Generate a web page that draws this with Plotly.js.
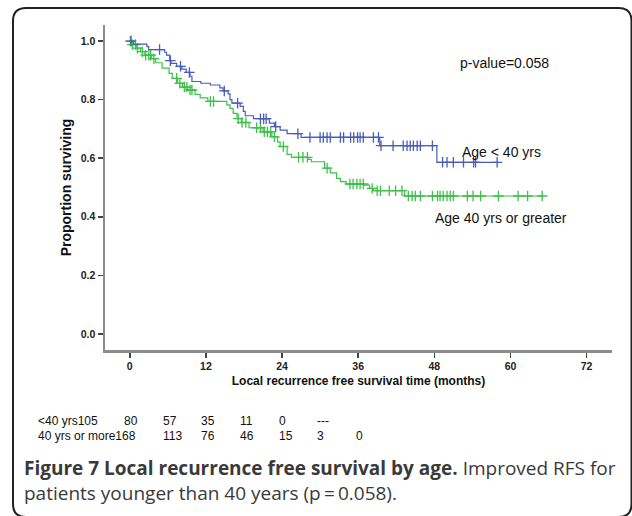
<!DOCTYPE html>
<html><head><meta charset="utf-8">
<script src="https://cdn.plot.ly/plotly-3.0.1.min.js"></script>
<style>html,body{margin:0;padding:0;background:#fff;} #chart{width:632px;height:516px;}</style>
</head><body><div id="chart"></div>
<script>
// ---- Data ----
const youngTimes = [0, 0.6, 2.7, 3.0, 5.5, 5.8, 6.3, 6.5, 7.4, 8.2, 8.9, 9.5, 9.8, 11.2, 12.7, 14.2, 14.7, 15.5, 15.8, 16.1, 17.4, 17.9, 18.2, 19.5, 22.0, 22.8, 23.7, 24.8, 27.0, 39.4, 48.4];
const youngSurv  = [1.0, 0.99, 0.981, 0.971, 0.962, 0.952, 0.933, 0.924, 0.914, 0.904, 0.893, 0.88, 0.862, 0.856, 0.85, 0.84, 0.83, 0.82, 0.80, 0.788, 0.777, 0.76, 0.745, 0.735, 0.72, 0.708, 0.696, 0.684, 0.671, 0.643, 0.586];
const youngEnd = 58.1;
const youngCensor = [0.2, 4.7, 6.4, 8.0, 9.4, 14.9, 17.0, 20.6, 21.1, 21.5, 23.0, 26.5, 28.4, 30.0, 30.5, 31.1, 31.6, 33.2, 33.7, 34.8, 35.3, 35.9, 36.3, 36.8, 38.4, 39.2, 39.6, 41.5, 43.1, 43.7, 44.2, 44.7, 45.3, 45.8, 47.7, 49.3, 50.0, 51.0, 52.6, 54.2, 54.5, 57.9];

const oldTimes = [0, 0.3, 1.0, 1.7, 2.4, 3.4, 4.1, 5.1, 6.2, 6.7, 7.5, 8.3, 9.1, 10.3, 11.1, 12.3, 15.3, 15.8, 16.3, 16.9, 17.6, 18.8, 21.0, 22.4, 23.3, 23.7, 24.8, 25.5, 28.1, 28.6, 30.7, 31.6, 32.6, 33.2, 34.1, 37.0, 37.8, 38.4, 43.3];
const oldSurv  = [1.0, 0.988, 0.976, 0.964, 0.952, 0.94, 0.926, 0.908, 0.89, 0.873, 0.856, 0.843, 0.833, 0.818, 0.806, 0.794, 0.782, 0.770, 0.753, 0.735, 0.722, 0.704, 0.690, 0.673, 0.655, 0.640, 0.613, 0.603, 0.596, 0.588, 0.566, 0.55, 0.531, 0.52, 0.512, 0.508, 0.497, 0.489, 0.471];
const oldEnd = 65.2;
const oldCensor = [0.1, 0.4, 0.9, 1.2, 2.0, 2.5, 3.0, 3.3, 3.8, 7.4, 7.9, 8.6, 9.0, 9.5, 9.8, 12.7, 13.2, 17.1, 17.7, 18.3, 20.0, 20.6, 21.2, 21.7, 22.2, 22.8, 24.2, 26.6, 27.3, 28.0, 31.1, 34.7, 35.2, 35.8, 36.3, 36.8, 38.2, 39.0, 39.5, 40.9, 41.9, 42.9, 43.9, 44.5, 45.0, 45.8, 47.7, 48.5, 48.9, 49.4, 50.0, 50.5, 51.0, 53.2, 54.1, 55.3, 58.1, 61.2, 62.7, 65.0];

const xTicks = [0, 12, 24, 36, 48, 60, 72];
const yTicks = [0, 0.2, 0.4, 0.6, 0.8, 1.0];
const riskLabels = ['<40 yrs', '40 yrs or more'];
const riskYoung = ['105', '80', '57', '35', '11', '0', '---'];
const riskOld   = ['168', '113', '76', '46', '15', '3', '0'];
const groupNames = ['Age < 40 yrs', 'Age 40 yrs or greater'];
const pText = 'p-value=0.058';
const captionBold = 'Figure 7 Local recurrence free survival by age.';
const captionRest1 = ' Improved RFS for';
const captionLine2 = 'patients younger than 40 years (p\u2009=\u20090.058).';

// ---- Layout constants ----
const W = 632, H = 516, L = 105, R = 20, T = 25, B = 166;
const PW = W - L - R, PH = H - T - B;
const px2x = p => (p - L) / PW;
const py2y = p => (T + PH - p) / PH;

const BLUE = 'rgb(72,92,184)';
const GREEN = 'rgb(62,192,74)';
const AX = 'Liberation Sans, Arial, sans-serif';

function survAt(times, surv, t) {
  let s = surv[0];
  for (let i = 0; i < times.length; i++) if (times[i] <= t) s = surv[i];
  return s;
}
function stepTrace(times, surv, end, color) {
  return {
    x: times.concat([end]), y: surv.concat([surv[surv.length - 1]]),
    mode: 'lines', line: {shape: 'hv', color: color, width: 1.2},
    hoverinfo: 'skip', showlegend: false
  };
}
function censorTrace(times, surv, cens, color) {
  return {
    x: cens, y: cens.map(t => survAt(times, surv, t)),
    mode: 'markers', marker: {symbol: 'cross-thin', size: 7.5, line: {width: 1.3, color: color}, color: color},
    hoverinfo: 'skip', showlegend: false
  };
}

const data = [
  stepTrace(oldTimes, oldSurv, oldEnd, GREEN),
  censorTrace(oldTimes, oldSurv, oldCensor, GREEN),
  stepTrace(youngTimes, youngSurv, youngEnd, BLUE),
  censorTrace(youngTimes, youngSurv, youngCensor, BLUE)
];

const ann = [];
function txt(text, px, py, size, opts) {
  ann.push(Object.assign({
    text: text, xref: 'paper', yref: 'paper', x: px2x(px), y: py2y(py),
    xanchor: 'left', yanchor: 'middle', showarrow: false,
    font: {family: AX, size: size, color: '#111'}
  }, opts || {}));
}
txt(pText, 458, 63, 14);
txt(groupNames[0], 460, 152, 14);
txt(groupNames[1], 433, 218, 14);

// number-at-risk table
const col1 = [null, 122, 161, 199, 238, 277, 315];
const col2 = [null, 161, 199, 238, 277, 315, 354];
txt(riskLabels[0] + riskYoung[0], 36, 421, 12);
txt(riskLabels[1] + riskOld[0], 36, 436, 12);
for (let i = 1; i < riskYoung.length; i++) {
  txt(riskYoung[i], col1[i], 421, 12);
  txt(riskOld[i], col2[i], 436, 12);
}
// caption
const CAP = {family: 'Open Sans, sans-serif', size: 19, color: '#3a3a3a'};
txt('<b>' + captionBold + '</b>' + captionRest1, 22, 468, 19, {font: CAP});
txt(captionLine2, 22, 493, 19, {font: CAP});

// rounded frame
function framePath(x0, y0, x1, y1, r) {
  const P = (a, b) => px2x(a) + ',' + py2y(b);
  return 'M' + P(x0 + r, y0) + ' L' + P(x1 - r, y0) + ' Q' + P(x1, y0) + ' ' + P(x1, y0 + r) +
    ' L' + P(x1, y1 - r) + ' Q' + P(x1, y1) + ' ' + P(x1 - r, y1) +
    ' L' + P(x0 + r, y1) + ' Q' + P(x0, y1) + ' ' + P(x0, y1 - r) +
    ' L' + P(x0, y0 + r) + ' Q' + P(x0, y0) + ' ' + P(x0 + r, y0) + ' Z';
}

const layout = {
  width: W, height: H,
  margin: {l: L, r: R, t: T, b: B},
  paper_bgcolor: '#fff', plot_bgcolor: '#fff',
  showlegend: false,
  xaxis: {
    range: [-3.9, 76], tickvals: xTicks, ticks: 'outside', ticklen: 5, tickwidth: 1.5, tickcolor: '#444',
    showline: true, linecolor: '#8c8c8c', linewidth: 2.5, zeroline: false, showgrid: false,
    tickfont: {family: AX, size: 10.5, color: '#222', weight: 'bold'},
    title: {text: 'Local recurrence free survival time (months)', font: {family: AX, size: 12, color: '#111', weight: 'bold'}, standoff: 6}
  },
  yaxis: {
    range: [-0.055, 1.055], tickvals: yTicks, tickformat: '.1f', ticks: 'outside', ticklen: 5, tickwidth: 1.5, tickcolor: '#444',
    showline: true, linecolor: '#8c8c8c', linewidth: 2.5, zeroline: false, showgrid: false,
    tickfont: {family: AX, size: 10.5, color: '#222', weight: 'bold'},
    title: {text: 'Proportion surviving', font: {family: AX, size: 14, color: '#111', weight: 'bold'}, standoff: 6}
  },
  annotations: ann,
  shapes: [{type: 'path', xref: 'paper', yref: 'paper', path: framePath(13, 8, 631.5, 517, 13), line: {color: '#222', width: 2}, fillcolor: 'rgba(0,0,0,0)', layer: 'below'}]
};

Plotly.newPlot('chart', data, layout, {displayModeBar: false, staticPlot: true});
</script></body></html>
